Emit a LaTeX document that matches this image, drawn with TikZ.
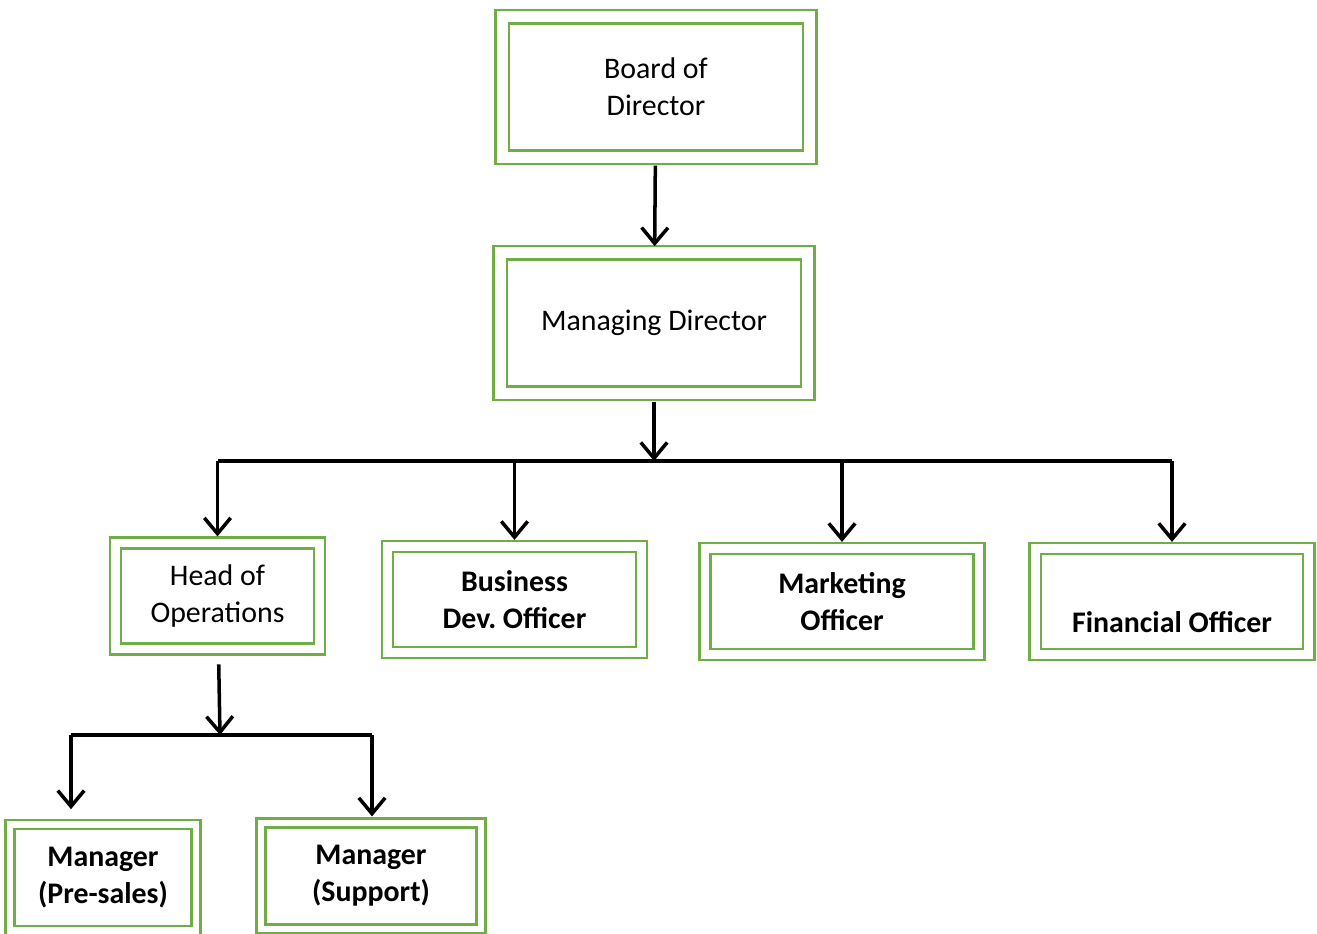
\documentclass[tikz,border=0pt]{standalone}
\usepackage{fontspec}
\setmainfont{Carlito}
\usetikzlibrary{arrows.meta,positioning,calc}
\definecolor{boxgreen}{RGB}{112,173,71}

\begin{document}
\begin{tikzpicture}[x=0.02cm, y=-0.02cm,
    post/.style={draw=boxgreen, double=white, line width=1.5pt, align=center,
        inner sep=0pt, font=\fontsize{17}{21}\selectfont},
    toppost/.style={post, double distance=0.22cm, minimum width=6.16cm, minimum height=2.81cm},
    midpost/.style={post, double distance=0.17cm, minimum height=2.12cm},
    lowpost/.style={post, double distance=0.13cm, minimum height=2.12cm},
    bold/.style={font=\fontsize{17}{21}\selectfont\bfseries},
    conn/.style={line width=2pt, shorten >=3pt, -{Straight Barb[length=9pt,width=15pt]}},
    bar/.style={line width=2pt}]

    \clip (0,0) rectangle (1317,933);
    \useasboundingbox (0,0) rectangle (1317,933);

    % top of the chart
    \node[toppost] (board) at (656,87) {Board of\\Director};
    \node[toppost] (md) at (654,323) {Managing Director};
    \coordinate (split) at (654,461);

    % officers
    \node[midpost, minimum width=4.08cm] (head) at (217.5,596) {Head of\\Operations};
    \node[midpost, bold, minimum width=5.08cm] (bdo) at (514.5,599.5) {Business\\Dev.\ Officer};
    \node[midpost, bold, minimum width=5.48cm] (mkt) at (842,601.5) {Marketing\\Officer};
    \node[midpost, bold, minimum width=5.47cm] (fin) at (1172,601.5) {\strut\\Financial Officer};

    % managers
    \coordinate (split2) at (220,735);
    \coordinate (left2) at (71,735);
    \coordinate (right2) at (372,735);
    \node[lowpost, bold, minimum width=3.72cm] (pre) at (103,877.5) {Manager\\(Pre-sales)};
    \node[lowpost, bold, minimum width=4.4cm] (sup) at (371,876) {Manager\\(Support)};

    % connectors
    \draw[conn, shorten <=4pt] (board) -- (md);
    \draw[conn, shorten >=0pt, shorten <=4pt] (md) -- (split);
    \draw[bar] (split -| head) -- (split -| fin);
    \foreach \n in {head,bdo,mkt,fin} {
        \draw[conn] (split -| \n) -- (\n);
    }
    \draw[conn, shorten >=0pt, shorten <=8pt] (head) -- (split2);
    \draw[bar] (left2) -- (right2);
    \draw[conn, shorten >=8pt] (left2) -- (left2 |- pre.north);
    \draw[conn] (right2) -- (right2 |- sup.north);
\end{tikzpicture}
\end{document}
